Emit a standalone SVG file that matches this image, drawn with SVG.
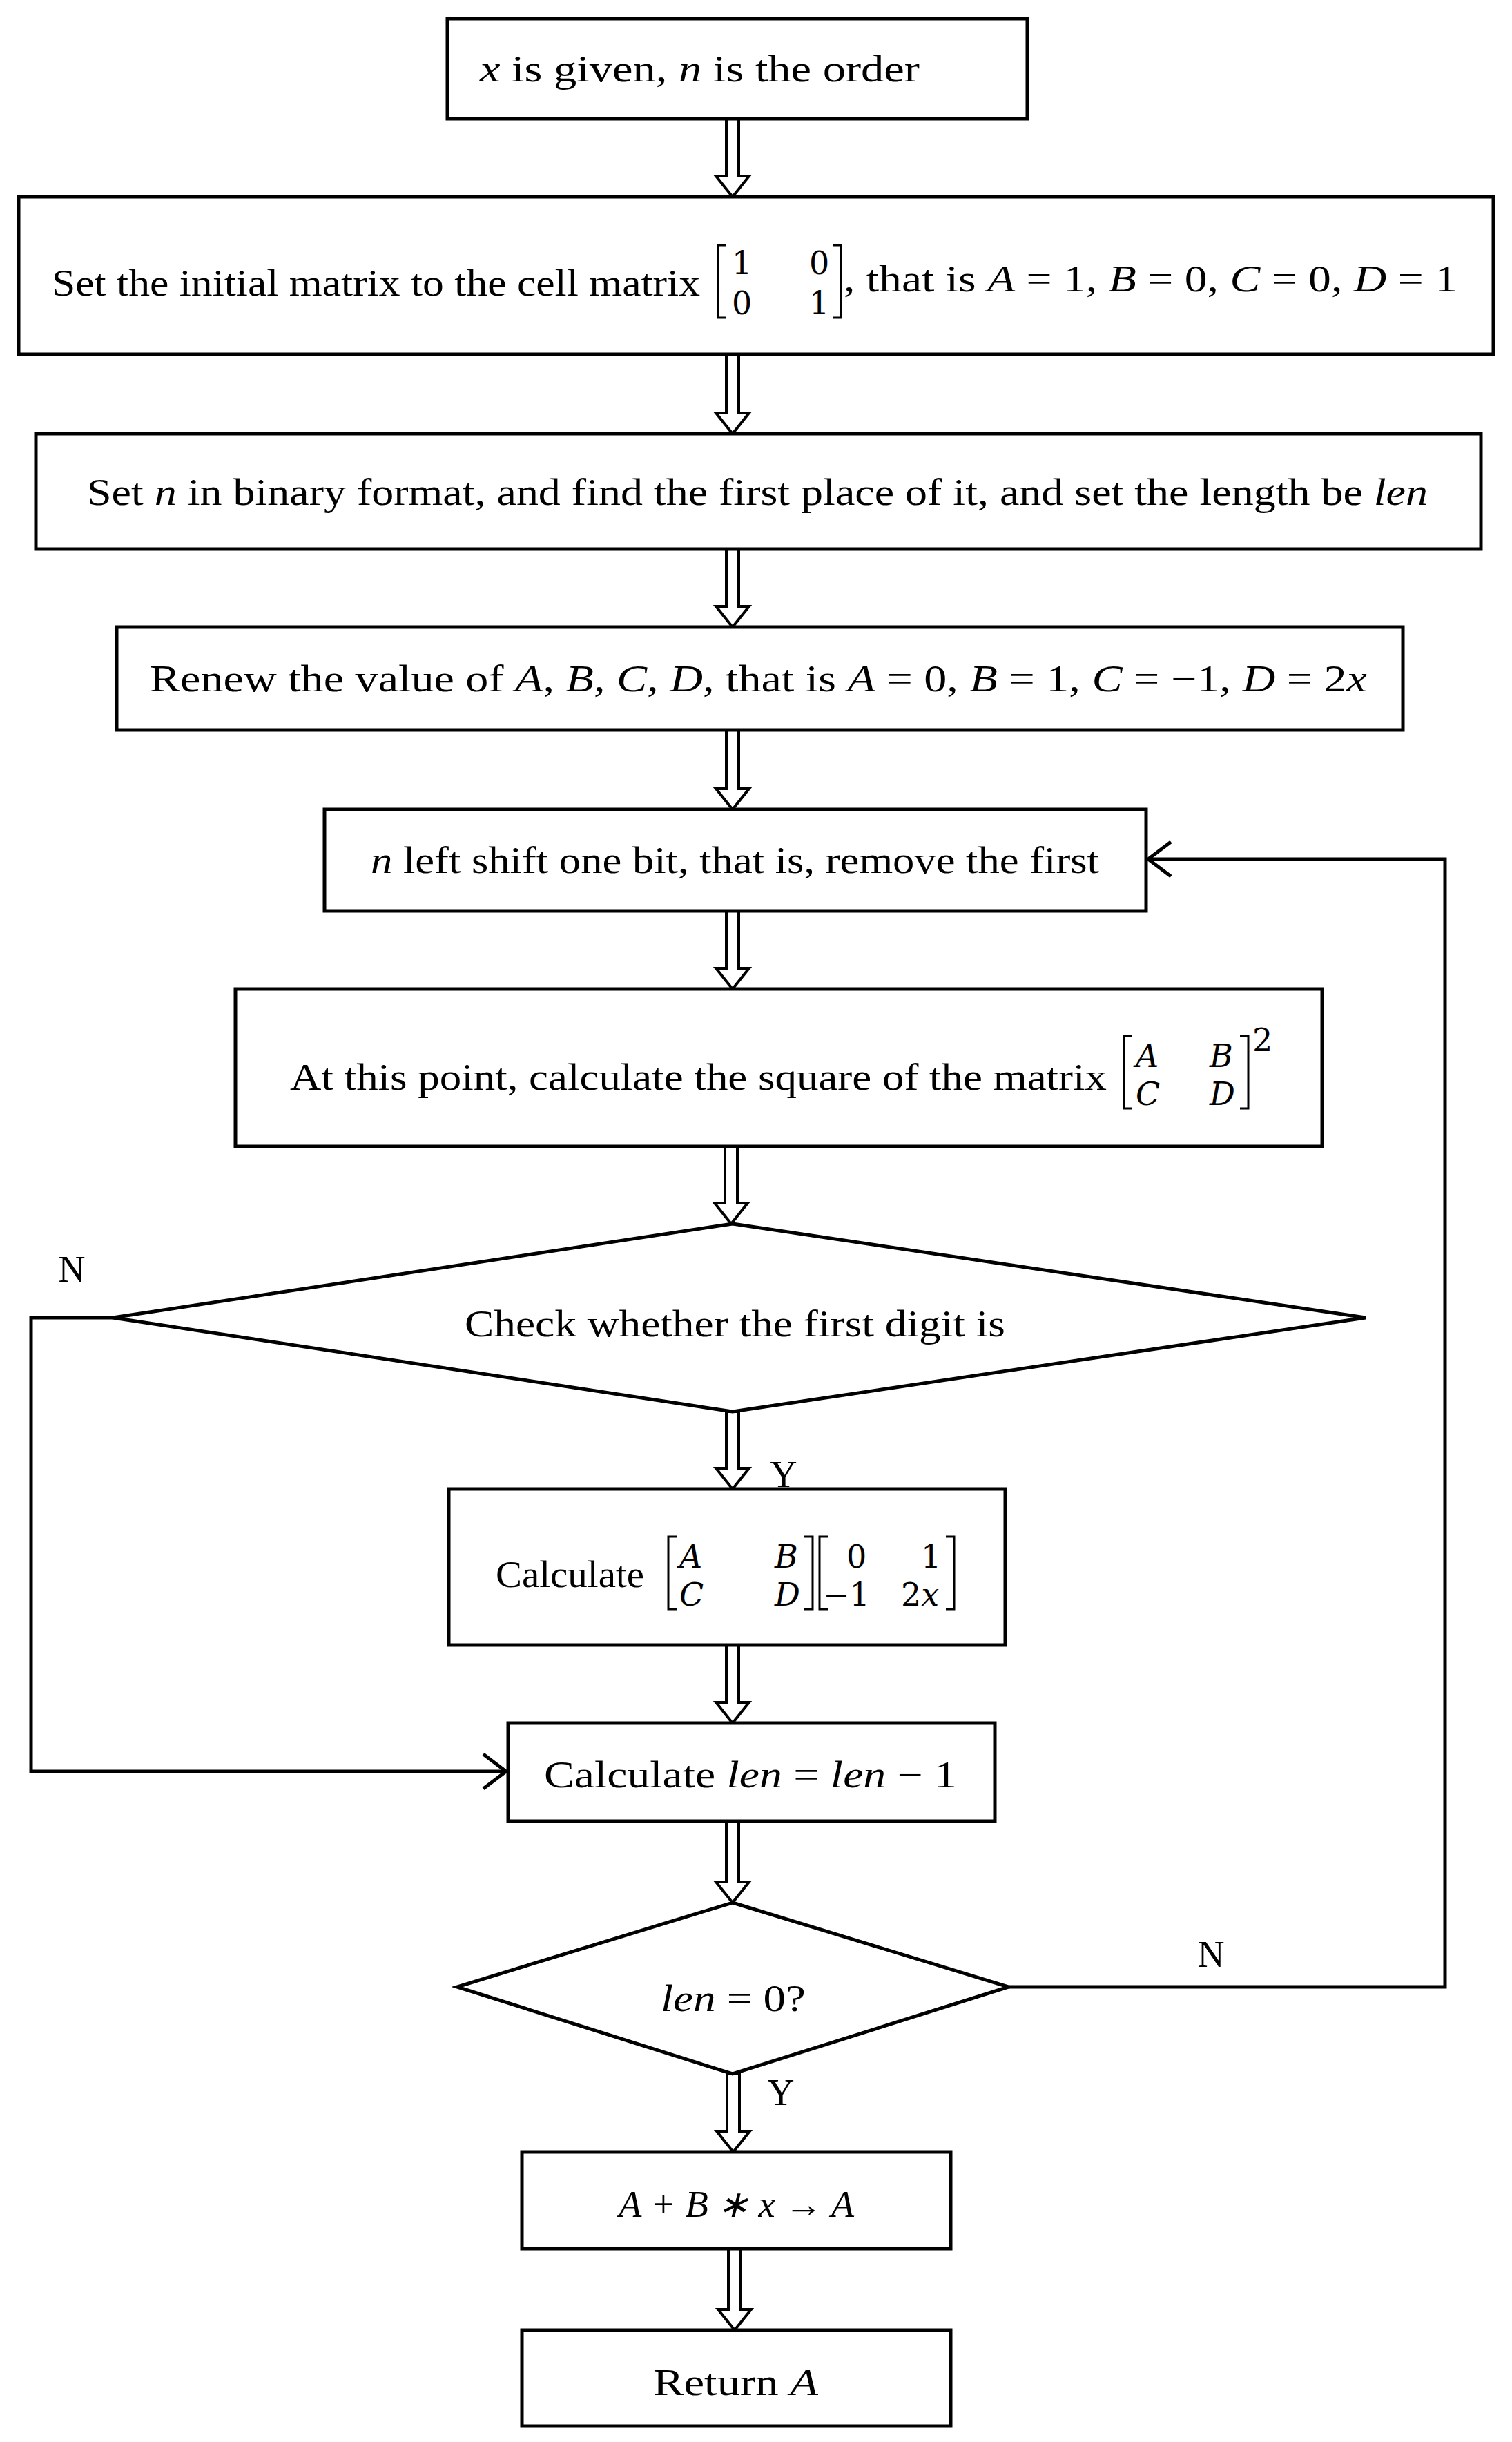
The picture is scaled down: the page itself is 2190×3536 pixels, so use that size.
<svg xmlns="http://www.w3.org/2000/svg" width="2190" height="3536" viewBox="0 0 2190 3536">
<style>
.b{fill:#fff;stroke:#000;stroke-width:5}
.t{font-family:"Liberation Serif",serif;font-size:54px;fill:#000}
.m{font-family:"DejaVu Serif",serif;font-size:46px;fill:#000}
.i{font-style:italic}
.br{fill:none;stroke:#000;stroke-width:3}
.ar{fill:#fff;stroke:#000;stroke-width:4;stroke-linejoin:miter}
.ln{fill:none;stroke:#000;stroke-width:5}
.hd{fill:none;stroke:#000;stroke-width:5}
</style>
<defs>
<path id="arr" class="ar" d="M-9 0 V-30 M0 0 Z"/>
</defs>
<rect width="2190" height="3536" fill="#fff"/>
<g id="connectors">
<g id="arrows">
<polygon class="ar" points="1052,172 1070,172 1070,255 1085,255 1061,285 1037,255 1052,255"/>
<polygon class="ar" points="1052,513 1070,513 1070,598 1085,598 1061,628 1037,598 1052,598"/>
<polygon class="ar" points="1052,795 1070,795 1070,878 1085,878 1061,908 1037,878 1052,878"/>
<polygon class="ar" points="1052,1057 1070,1057 1070,1142 1085,1142 1061,1172 1037,1142 1052,1142"/>
<polygon class="ar" points="1052,1319 1070,1319 1070,1402 1085,1402 1061,1432 1037,1402 1052,1402"/>
<polygon class="ar" points="1050,1660 1068,1660 1068,1742 1083,1742 1059,1772 1035,1742 1050,1742"/>
<polygon class="ar" points="1052,2044 1070,2044 1070,2126 1085,2126 1061,2156 1037,2126 1052,2126"/>
<polygon class="ar" points="1052,2382 1070,2382 1070,2465 1085,2465 1061,2495 1037,2465 1052,2465"/>
<polygon class="ar" points="1052,2637 1070,2637 1070,2725 1085,2725 1061,2755 1037,2725 1052,2725"/>
<polygon class="ar" points="1053,3003 1071,3003 1071,3086 1086,3086 1062,3116 1038,3086 1053,3086"/>
<polygon class="ar" points="1055,3256 1073,3256 1073,3344 1088,3344 1064,3374 1040,3344 1055,3344"/>
</g>
<path class="ln" d="M163 1908 H45 V2565 H733"/>
<path class="hd" d="M700 2540 L733 2565 L700 2590"/>
<path class="ln" d="M1461 2877 H2093 V1244 H1663"/>
<path class="hd" d="M1696 1219 L1663 1244 L1696 1269"/>
<text class="t" x="104" y="1856" text-anchor="middle">N</text>
<text class="t" x="1135" y="2153" text-anchor="middle">Y</text>
<text class="t" x="1754" y="2848" text-anchor="middle">N</text>
<text class="t" x="1131" y="3048" text-anchor="middle">Y</text>
</g>
<g id="n1">
<rect class="b" x="648" y="27" width="840" height="145"/>
<text class="t" x="695" y="118" textLength="637" lengthAdjust="spacingAndGlyphs"><tspan class="i">x</tspan>  is given,  <tspan class="i">n</tspan> is the order</text>
</g>
<g id="n2">
<rect class="b" x="27" y="285" width="2136" height="228"/>
<text class="t" x="75" y="428" textLength="939" lengthAdjust="spacingAndGlyphs">Set the initial matrix to the cell matrix</text>
<path class="br" d="M1052 355 H1040 V460 H1052 M1206 355 H1218 V460 H1206"/>
<text class="m" x="1060" y="397">1</text><text class="m" x="1172" y="397">0</text>
<text class="m" x="1060" y="455">0</text><text class="m" x="1172" y="455">1</text>
<text class="t" x="1222" y="422" textLength="889" lengthAdjust="spacingAndGlyphs">, that is  <tspan class="i">A</tspan> = 1,  <tspan class="i">B</tspan> = 0,  <tspan class="i">C</tspan> = 0,  <tspan class="i">D</tspan> = 1</text>
</g>
<g id="n3">
<rect class="b" x="52" y="628" width="2093" height="167"/>
<text class="t" x="126" y="731" textLength="1942" lengthAdjust="spacingAndGlyphs">Set  <tspan class="i">n</tspan> in binary format, and find the first place of it, and set the length be  <tspan class="i">len</tspan></text>
</g>
<g id="n4">
<rect class="b" x="169" y="908" width="1863" height="149"/>
<text class="t" x="217" y="1001" textLength="1763" lengthAdjust="spacingAndGlyphs">Renew the value of  <tspan class="i">A</tspan>,  <tspan class="i">B</tspan>,  <tspan class="i">C</tspan>,  <tspan class="i">D</tspan>, that is  <tspan class="i">A</tspan> = 0,  <tspan class="i">B</tspan> = 1,  <tspan class="i">C</tspan> = −1,  <tspan class="i">D</tspan> = 2<tspan class="i">x</tspan></text>
</g>
<g id="n5">
<rect class="b" x="470" y="1172" width="1190" height="147"/>
<text class="t" x="537" y="1264" textLength="1055" lengthAdjust="spacingAndGlyphs"><tspan class="i">n</tspan> left shift one bit, that is, remove the first</text>
</g>
<g id="n6">
<rect class="b" x="341" y="1432" width="1574" height="228"/>
<text class="t" x="420" y="1578" textLength="1183" lengthAdjust="spacingAndGlyphs">At this point, calculate the square of the matrix</text>
<path class="br" d="M1640 1500 H1628 V1605 H1640 M1796 1500 H1808 V1605 H1796"/>
<text class="m i" x="1645" y="1545">A</text><text class="m i" x="1752" y="1545">B</text>
<text class="m i" x="1645" y="1600">C</text><text class="m i" x="1752" y="1600">D</text>
<text class="m" x="1814" y="1522" font-size="32">2</text>
</g>
<g id="n7">
<polygon class="b" points="1061,1772 1978,1908 1061,2044 163,1908"/>
<text class="t" x="673" y="1935" textLength="783" lengthAdjust="spacingAndGlyphs">Check whether the first digit is</text>
</g>
<g id="n8">
<rect class="b" x="650" y="2156" width="806" height="226"/>
<text class="t" x="718" y="2298" textLength="215" lengthAdjust="spacingAndGlyphs">Calculate</text>
<path class="br" d="M980 2225 H968 V2330 H980 M1165 2225 H1177 V2330 H1165"/>
<text class="m i" x="984" y="2270">A</text><text class="m i" x="1122" y="2270">B</text>
<text class="m i" x="984" y="2325">C</text><text class="m i" x="1122" y="2325">D</text>
<path class="br" d="M1199 2225 H1187 V2330 H1199 M1370 2225 H1382 V2330 H1370"/>
<text class="m" x="1226" y="2270">0</text><text class="m" x="1334" y="2270">1</text>
<text class="m" x="1192" y="2325">−1</text><text class="m" x="1305" y="2325">2<tspan class="i">x</tspan></text>
</g>
<g id="n9">
<rect class="b" x="736" y="2495" width="705" height="142"/>
<text class="t" x="788" y="2588" textLength="598" lengthAdjust="spacingAndGlyphs">Calculate  <tspan class="i">len</tspan> = <tspan class="i">len</tspan> − 1</text>
</g>
<g id="n10">
<polygon class="b" points="1061,2755 1461,2877 1061,3003 662,2877"/>
<text class="t" x="957" y="2912" textLength="210" lengthAdjust="spacingAndGlyphs"><tspan class="i">len</tspan> = 0?</text>
</g>
<g id="n11">
<rect class="b" x="756" y="3116" width="621" height="140"/>
<text class="t i" x="896" y="3210" textLength="341" lengthAdjust="spacingAndGlyphs">A + B ∗ x → A</text>
</g>
<g id="n12">
<rect class="b" x="756" y="3374" width="621" height="139"/>
<text class="t" x="946" y="3468" textLength="239" lengthAdjust="spacingAndGlyphs">Return  <tspan class="i">A</tspan></text>
</g>
</svg>
